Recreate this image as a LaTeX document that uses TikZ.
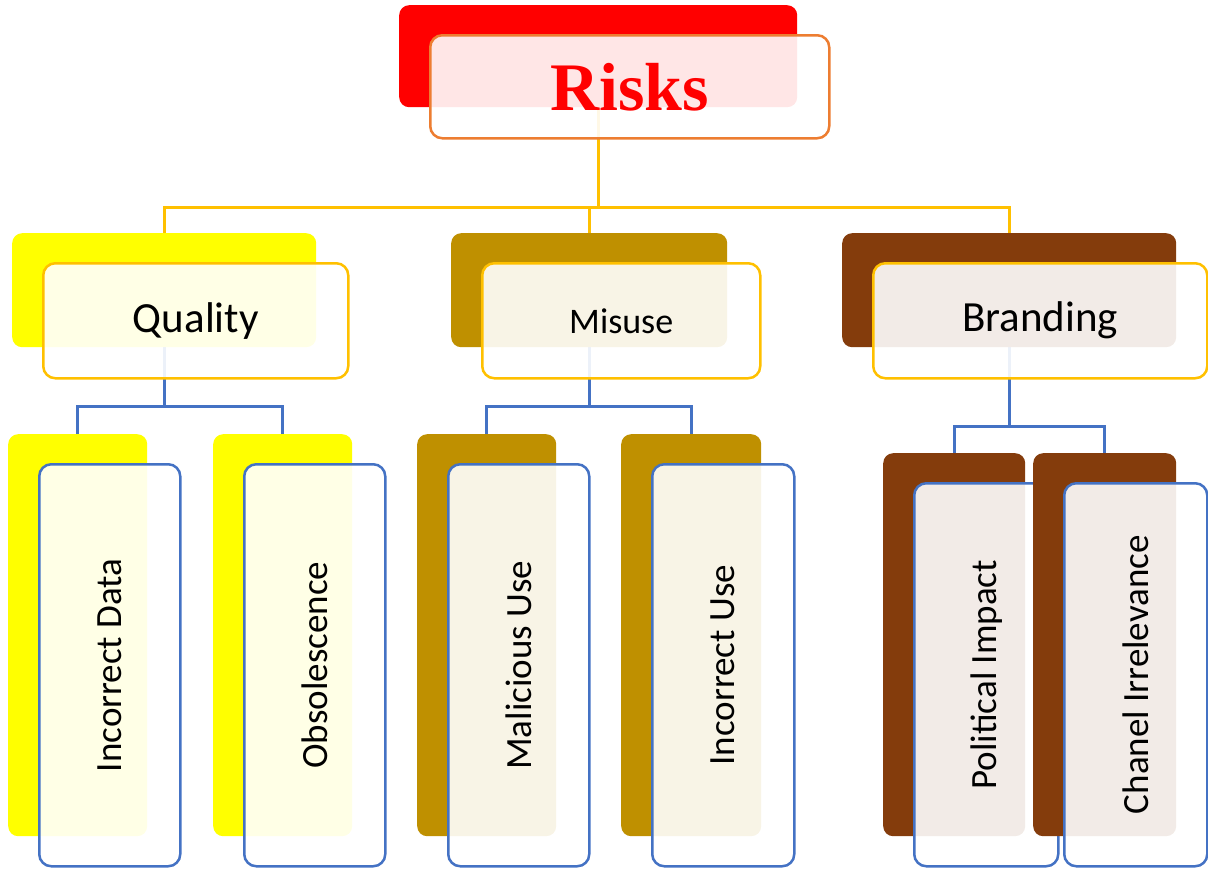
\documentclass[tikz,border=0pt]{standalone}
\usepackage{fontspec}
\setmainfont{Carlito}
\newfontfamily\titlefont{Liberation Serif}
\usetikzlibrary{calc}
\pgfdeclarelayer{bg}
\pgfsetlayers{bg,main}

\definecolor{riskred}{HTML}{FF0000}
\definecolor{riskedge}{HTML}{ED7D31}
\definecolor{gold}{HTML}{FFC000}
\definecolor{qualyellow}{HTML}{FFFF00}
\definecolor{misgold}{HTML}{BF9000}
\definecolor{brandbrown}{HTML}{843C0C}
\definecolor{leafblue}{HTML}{4472C4}

\tikzset{
  backbox/.style={rectangle, rounded corners=10pt, inner sep=0pt, anchor=north west, draw=none},
  frontbox/.style={rectangle, rounded corners=12pt, inner sep=0pt, anchor=north west,
    fill=white, fill opacity=0.9, text opacity=1, line width=2.5pt},
  midbox/.style={frontbox, draw=gold, minimum height=115},
  leafbox/.style={frontbox, draw=leafblue},
  topline/.style={draw=gold, line width=3pt},
  leafline/.style={draw=leafblue, line width=3pt},
  midtext/.style={font=\fontsize{43}{50}\selectfont},
  leaftext/.style={font=\fontsize{37}{44}\selectfont}
}

\begin{document}
\begin{tikzpicture}[x=1pt,y=-1pt]
\useasboundingbox (0,0) rectangle (1208,870);

% root
\node[backbox, fill=riskred, minimum width=398, minimum height=102] (riskB) at (399,5) {};
\node[frontbox, draw=riskedge, minimum width=399, minimum height=103, text=riskred,
      font=\titlefont\bfseries\fontsize{68}{76}\selectfont] (riskF) at (429,34) {Risks};

% second level
\node[backbox, fill=qualyellow, minimum width=304, minimum height=114] (qualB) at (12,233) {};
\node[midbox, minimum width=305, midtext] (qualF) at (42,262) {Quality};

\node[backbox, fill=misgold, minimum width=276, minimum height=114] (misB) at (451,233) {};
\node[midbox, minimum width=278, font=\fontsize{36}{42}\selectfont] (misF) at (481,262) {Misuse};

\node[backbox, fill=brandbrown, minimum width=334, minimum height=114] (brandB) at (842,233) {};
\node[midbox, minimum width=334, midtext] (brandF) at (872,262) {Branding};

% third level
\node[backbox, fill=qualyellow, minimum width=139, minimum height=402] (incdB) at (8,434) {};
\node[leafbox, minimum width=141, minimum height=402, leaftext] (incdF) at (38,463) {\rotatebox{90}{Incorrect Data}};

\node[backbox, fill=qualyellow, minimum width=139, minimum height=402] (obsB) at (213,434) {};
\node[leafbox, minimum width=141, minimum height=402, leaftext] (obsF) at (243,463) {\rotatebox{90}{Obsolescence}};

\node[backbox, fill=misgold, minimum width=139, minimum height=402] (malB) at (417,434) {};
\node[leafbox, minimum width=141, minimum height=402, leaftext] (malF) at (447,463) {\rotatebox{90}{Malicious Use}};

\node[backbox, fill=misgold, minimum width=140, minimum height=402] (incuB) at (621,434) {};
\node[leafbox, minimum width=142, minimum height=402, leaftext] (incuF) at (651,463) {\rotatebox{90}{Incorrect Use}};

\node[backbox, fill=brandbrown, minimum width=142, minimum height=383] (polB) at (883,453) {};
\node[leafbox, minimum width=144, minimum height=383, leaftext] (polF) at (913,482) {\rotatebox{90}{Political Impact}};

\node[backbox, fill=brandbrown, minimum width=143, minimum height=383] (chanB) at (1033,453) {};
\node[leafbox, minimum width=143, minimum height=383, leaftext] (chanF) at (1063,482) {\rotatebox{90}{Chanel Irrelevance}};

% connectors
\coordinate (busA) at (0,207);
\coordinate (busQ) at (0,406);
\coordinate (busM) at (0,406);
\coordinate (busB) at (0,426);
\begin{pgfonlayer}{bg}
  \draw[topline] (riskB.south) -- (riskB.south |- busA);
  \draw[topline] (qualB.north) -- (qualB.north |- busA) -- (brandB.north |- busA) -- (brandB.north);
  \draw[topline] (misB.north) -- (misB.north |- busA);

  \draw[leafline] (qualB.south) -- (qualB.south |- busQ);
  \draw[leafline] (incdB.north) -- (incdB.north |- busQ) -- (obsB.north |- busQ) -- (obsB.north);
  \draw[leafline] (misB.south) -- (misB.south |- busM);
  \draw[leafline] (malB.north) -- (malB.north |- busM) -- (incuB.north |- busM) -- (incuB.north);
  \draw[leafline] (brandB.south) -- (brandB.south |- busB);
  \draw[leafline] (polB.north) -- (polB.north |- busB) -- (chanB.north |- busB) -- (chanB.north);
\end{pgfonlayer}
\end{tikzpicture}
\end{document}
